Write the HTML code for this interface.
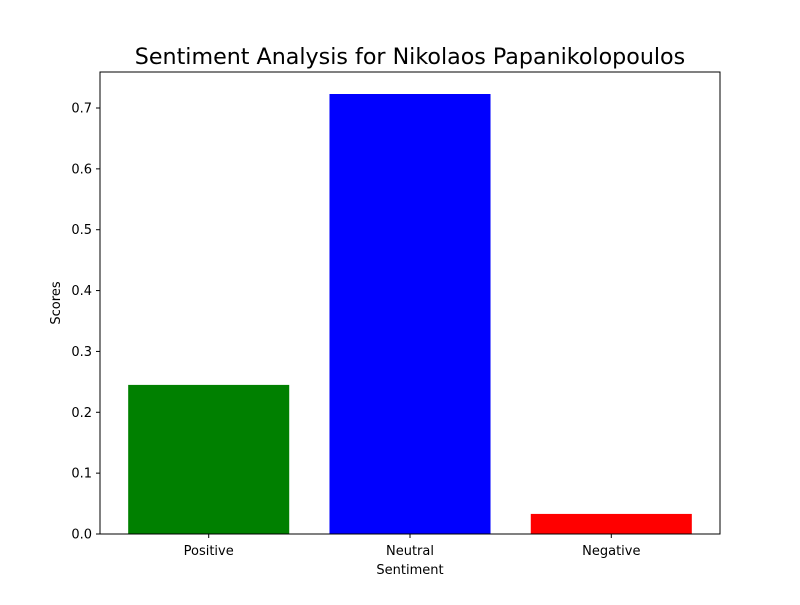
<!DOCTYPE html>
<html><head><meta charset="utf-8"><style>
body{margin:0;background:#fff;}
svg text{font-family:"DejaVu Sans","Liberation Sans",sans-serif;fill:#000;}
</style></head><body>
<svg width="800" height="600" xmlns="http://www.w3.org/2000/svg">
<rect width="800" height="600" fill="#fff"/>
<text x="410" y="64" font-size="22.2" text-anchor="middle">Sentiment Analysis for Nikolaos Papanikolopoulos</text>
<g id="bars"></g>
<g id="yticks"></g>
<g id="xticks"></g>
<rect x="100" y="72" width="620" height="462" fill="none" stroke="#000" stroke-width="1"/>
<text x="410" y="574" font-size="13" text-anchor="middle">Sentiment</text>
<text x="60" y="303" font-size="13" text-anchor="middle" transform="rotate(-90 60 303)">Scores</text>
</svg>
<script>
const categories=["Positive","Neutral","Negative"];
const scores=[0.245,0.723,0.033];
const colors=["green","blue","red"];
const yTicks=[0,0.1,0.2,0.3,0.4,0.5,0.6,0.7];
const NS="http://www.w3.org/2000/svg";
const x0=100,x1=720,y0=534,y1=72;
const xmin=-0.54,xmax=2.54;
const pxPerTenth=(534-108)/7;
function xs(v){return x0+(v-xmin)/(xmax-xmin)*(x1-x0);}
function ys(v){return y0-v*10*pxPerTenth;}
const bw=0.8*(x1-x0)/(xmax-xmin);
const gb=document.getElementById('bars'),gy=document.getElementById('yticks'),gx=document.getElementById('xticks');
function mk(t,a){const e=document.createElementNS(NS,t);for(const k in a)e.setAttribute(k,a[k]);return e;}
categories.forEach((c,i)=>{
 const r=mk('rect',{x:xs(i)-bw/2,y:ys(scores[i]),width:bw,height:y0-ys(scores[i]),fill:colors[i]});
 
 
 gb.appendChild(r);
 const tk=mk('line',{x1:xs(i),x2:xs(i),y1:y0,y2:y0+4,stroke:'#000'});
 
 
 gx.appendChild(tk);
 const t=mk('text',{x:xs(i),y:y0+21,'font-size':13,'text-anchor':'middle'});
 t.textContent=c;
 
 
 gx.appendChild(t);
});
yTicks.forEach(v=>{
 const tk=mk('line',{x1:x0-4,x2:x0,y1:ys(v),y2:ys(v),stroke:'#000'});
 
 
 gy.appendChild(tk);
 const t=mk('text',{x:x0-8,y:ys(v)+4.5,'font-size':13,'text-anchor':'end'});
 t.textContent=v.toFixed(1);
 
 
 gy.appendChild(t);
});
</script>
</body></html>
